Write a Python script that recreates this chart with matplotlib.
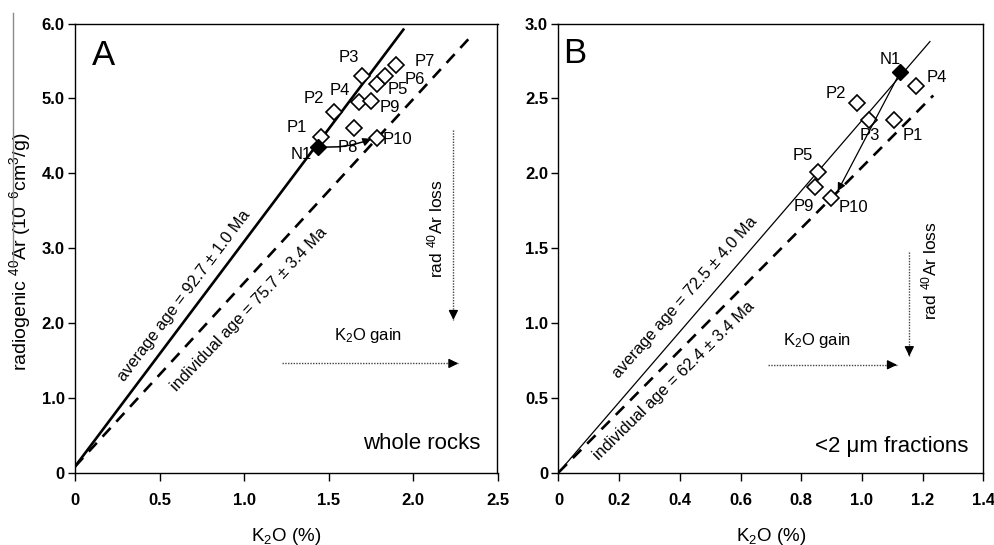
import numpy as np
import matplotlib.pyplot as plt
from matplotlib.lines import Line2D

plt.rcParams['font.family'] = ['Liberation Sans', 'DejaVu Sans']
plt.rcParams['mathtext.fontset'] = 'custom'
plt.rcParams['mathtext.rm'] = 'Liberation Sans'
plt.rcParams['mathtext.it'] = 'Liberation Sans:italic'
plt.rcParams['mathtext.bf'] = 'Liberation Sans:bold'

# --- A: whole rocks ---
wr_names = ["P1", "P2", "P3", "P4", "P5", "P6", "P7", "P8", "P9", "P10"]
wr_k2o = [1.454, 1.534, 1.70, 1.68, 1.785, 1.837, 1.90, 1.651, 1.75, 1.785]
wr_ar = [4.485, 4.82, 5.30, 4.955, 5.19, 5.305, 5.45, 4.605, 4.96, 4.475]
wr_n1 = (1.438, 4.355)
wr_label_pos = [(1.312, 4.615), (1.415, 5.0), (1.618, 5.55), (1.568, 5.11),
                (1.908, 5.12), (2.012, 5.25), (2.07, 5.49), (1.617, 4.345),
                (1.864, 4.88), (1.908, 4.447)]
wr_n1_label = (1.338, 4.255)
wr_avg_line = ([0.0, 1.943], [0.08, 5.92])
wr_ind_line = ([0.0, 2.327], [0.08, 5.79])
wr_arrow_tip = (1.754, 4.46)

# --- B: <2 um fractions ---
cf_names = ["P1", "P2", "P3", "P4", "P5", "P9", "P10"]
cf_k2o = [1.104, 0.984, 1.024, 1.178, 0.854, 0.845, 0.897]
cf_ar = [2.359, 2.47, 2.359, 2.586, 2.009, 1.909, 1.835]
cf_n1 = (1.126, 2.676)
cf_label_pos = [(1.169, 2.25), (0.915, 2.535), (1.027, 2.253), (1.246, 2.64),
                (0.805, 2.12), (0.807, 1.776), (0.971, 1.768)]
cf_n1_label = (1.093, 2.76)
cf_avg_line = ([0.0, 1.224], [0.0, 2.88])
cf_ind_line = ([0.0, 1.235], [0.0, 2.52])
cf_arrow_tip = (0.92, 1.88)

fig = plt.figure(figsize=(9.95, 5.45), dpi=100)
axA = fig.add_axes([0.0754, 0.133, 0.4246, 0.8237])
axB = fig.add_axes([0.5613, 0.133, 0.427, 0.8237])

# stray scan line at the left edge
fig.add_artist(Line2D([13 / 995, 13 / 995], [1 - 13 / 545, 1 - 265 / 545],
                      color='#8a8a8a', lw=1.0))


def style_axis(ax, xt, xl, yt, yl):
    ax.set_xticks(xt, xl)
    ax.set_yticks(yt, yl)
    ax.tick_params(direction='out', width=1, labelsize=12)
    ax.tick_params(axis='x', length=5.4, pad=9.5)
    ax.tick_params(axis='y', length=5, pad=2.5)
    for lab in ax.get_xticklabels() + ax.get_yticklabels():
        lab.set_fontweight('bold')
    for sp in ax.spines.values():
        sp.set_linewidth(1.0)


def dotted_arrow(ax, x0, y0, x1, y1):
    ax.plot([x0, x1], [y0, y1], color='#444444', lw=1.0, linestyle=(0, (1, 1)))
    # short solid segment only for the head
    dx, dy = (x1 - x0) * 0.02, (y1 - y0) * 0.02
    ax.annotate("", xy=(x1, y1), xytext=(x1 - dx, y1 - dy),
                arrowprops=dict(arrowstyle='-|>', color='k', lw=1,
                                mutation_scale=14, shrinkA=0, shrinkB=0))


# ---------- panel A ----------
ax = axA
ax.plot(*wr_avg_line, 'k-', lw=1.9)
ax.plot(*wr_ind_line, color='k', lw=1.9, linestyle=(0, (4.5, 3.2)))
ax.annotate("", xy=wr_arrow_tip, xytext=wr_n1,
            arrowprops=dict(arrowstyle='-|>', color='k', lw=1.1, mutation_scale=12,
                            shrinkA=0, shrinkB=0, connectionstyle='arc3,rad=0.12'))
ax.plot(wr_k2o, wr_ar, 'D', mfc='white', mec='k', mew=1.2, ms=8, ls='none')
ax.plot(*wr_n1, 'D', mfc='k', mec='k', ms=8)
for name, (lx, ly) in zip(wr_names, wr_label_pos):
    ax.text(lx, ly, name, fontsize=12, ha='center', va='center')
ax.text(*wr_n1_label, "N1", fontsize=12, ha='center', va='center')

ax.text(0.168, 5.58, "A", fontsize=25, ha='center', va='center')
ax.text(0.645, 2.36, "average age = 92.7 ± 1.0 Ma", fontsize=11.8, rotation=53,
        ha='center', va='center', rotation_mode='anchor')
ax.text(1.03, 2.18, "individual age = 75.7 ± 3.4 Ma", fontsize=11.8, rotation=46.5,
        ha='center', va='center', rotation_mode='anchor')
ax.text(2.13, 3.26, "rad $^{40}$Ar loss", fontsize=12.5, rotation=90,
        ha='center', va='center')
dotted_arrow(ax, 2.239, 4.58, 2.239, 2.04)
ax.text(1.736, 1.83, "K$_2$O gain", fontsize=12, ha='center', va='center')
dotted_arrow(ax, 1.223, 1.458, 2.268, 1.458)
ax.text(2.05, 0.39, "whole rocks", fontsize=16, ha='center', va='center')

ax.set_xlim(0, 2.5)
ax.set_ylim(0, 6.0)
style_axis(ax, [0, 0.5, 1.0, 1.5, 2.0, 2.5], ["0", "0.5", "1.0", "1.5", "2.0", "2.5"],
           [0, 1, 2, 3, 4, 5, 6], ["0", "1.0", "2.0", "3.0", "4.0", "5.0", "6.0"])
ax.set_xlabel("K$_2$O (%)", fontsize=13.5)
ax.xaxis.set_label_coords(0.5, -0.119)
ax.set_ylabel("radiogenic $^{40}$Ar (10$^{-6}$cm$^3$/g)", fontsize=14)
ax.yaxis.set_label_coords(-0.099, 0.491)

# ---------- panel B ----------
ax = axB
ax.plot(*cf_avg_line, 'k-', lw=0.9)
ax.plot(*cf_ind_line, color='k', lw=1.9, linestyle=(0, (4.5, 3.2)))
ax.annotate("", xy=cf_arrow_tip, xytext=cf_n1,
            arrowprops=dict(arrowstyle='-|>', color='k', lw=0.9, mutation_scale=12,
                            shrinkA=0, shrinkB=0))
ax.plot(cf_k2o, cf_ar, 'D', mfc='white', mec='k', mew=1.2, ms=8, ls='none')
ax.plot(*cf_n1, 'D', mfc='k', mec='k', ms=8)
for name, (lx, ly) in zip(cf_names, cf_label_pos):
    ax.text(lx, ly, name, fontsize=12, ha='center', va='center')
ax.text(*cf_n1_label, "N1", fontsize=12, ha='center', va='center')

ax.text(0.055, 2.80, "B", fontsize=25, ha='center', va='center')
ax.text(0.417, 1.167, "average age = 72.5 ± 4.0 Ma", fontsize=11.8, rotation=48.5,
        ha='center', va='center', rotation_mode='anchor')
ax.text(0.381, 0.615, "individual age = 62.4 ± 3.4 Ma", fontsize=11.8, rotation=44.5,
        ha='center', va='center', rotation_mode='anchor')
ax.text(1.224, 1.347, "rad $^{40}$Ar loss", fontsize=12.5, rotation=90,
        ha='center', va='center')
dotted_arrow(ax, 1.156, 1.475, 1.156, 0.778)
ax.text(0.851, 0.882, "K$_2$O gain", fontsize=12, ha='center', va='center')
dotted_arrow(ax, 0.692, 0.72, 1.115, 0.72)
ax.text(1.098, 0.174, "<2 μm fractions", fontsize=16, ha='center', va='center')

ax.set_xlim(0, 1.4)
ax.set_ylim(0, 3.0)
style_axis(ax, [0, 0.2, 0.4, 0.6, 0.8, 1.0, 1.2, 1.4],
           ["0", "0.2", "0.4", "0.6", "0.8", "1.0", "1.2", "1.4"],
           [0, 0.5, 1.0, 1.5, 2.0, 2.5, 3.0], ["0", "0.5", "1.0", "1.5", "2.0", "2.5", "3.0"])
ax.set_xlabel("K$_2$O (%)", fontsize=13.5)
ax.xaxis.set_label_coords(0.5, -0.119)

plt.savefig("out.png", dpi=100)
